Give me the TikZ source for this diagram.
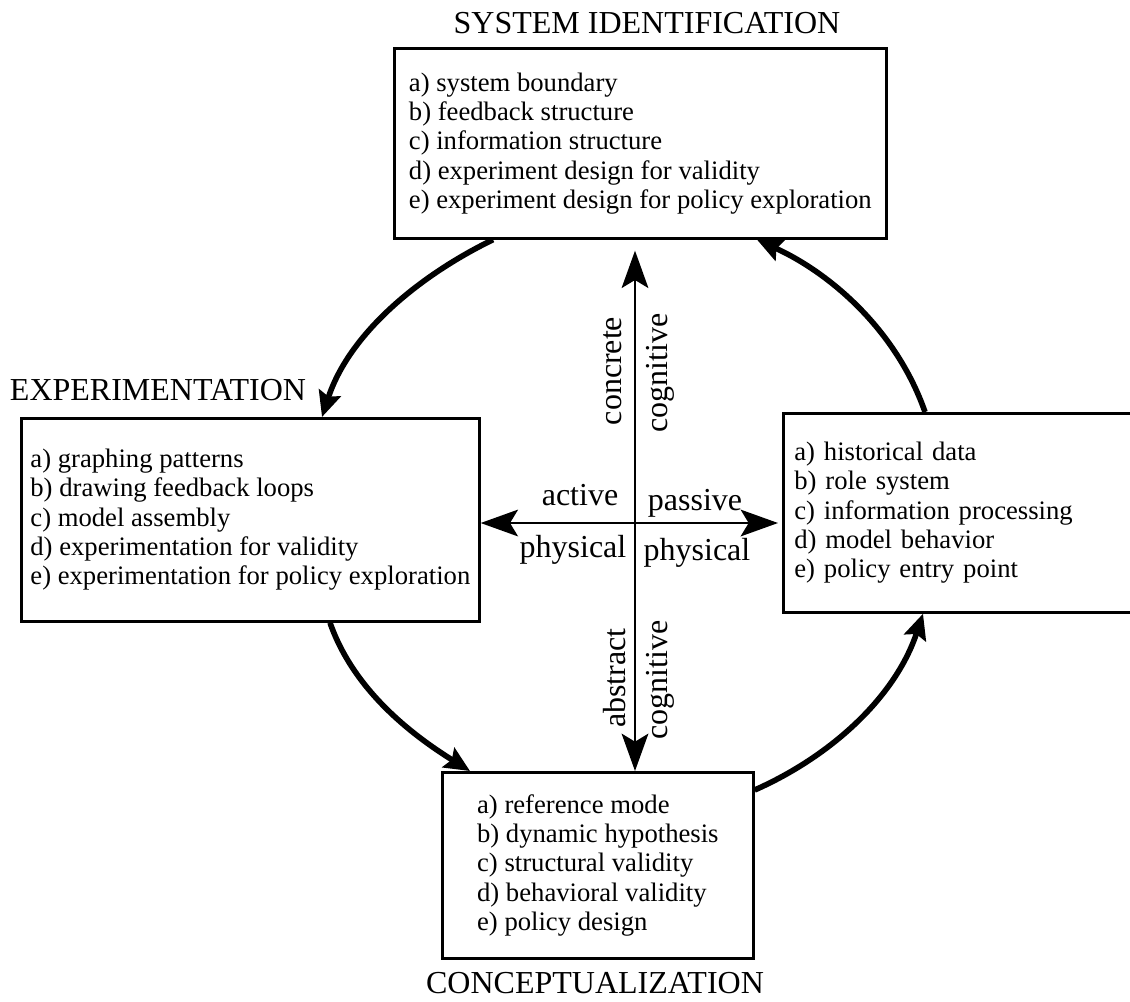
\documentclass[tikz,border=0pt]{standalone}
\usepackage{fontspec}
\setmainfont{Liberation Serif}
\usetikzlibrary{arrows.meta,calc}
\begin{document}
\begin{tikzpicture}[x=0.75pt,y=-0.75pt,
  box/.style={draw, line width=2pt, inner sep=0pt, anchor=north west, align=left,
              font=\fontsize{20}{22}\selectfont},
  ttl/.style={font=\fontsize{24}{28}\selectfont, inner sep=0pt},
  lbl/.style={font=\fontsize{24}{28}\selectfont, inner sep=0pt},
  cyc/.style={line width=4.2pt, -{Stealth[length=19pt,width=17pt,inset=3pt]}},
  axisarrow/.style={line width=1.8pt,
     {Stealth[length=28pt,width=20pt,inset=6pt]}-{Stealth[length=28pt,width=20pt,inset=6pt]}},
]
\fill[white] (0,0) rectangle (1130,1001);
\useasboundingbox (0,0) rectangle (1130,1001);
\clip (0,0) rectangle (1130,1001);

% boxes
\node[box, minimum width=369pt, minimum height=142.5pt] (sid) at (393,47)
  {a) system boundary\\ b) feedback structure\\ c) information structure\\
   d) experiment design for validity\\ e) experiment design for policy exploration};
\node[box, minimum width=343.5pt, minimum height=152.25pt] (exb) at (20,417)
  {a) graphing patterns\\ b) drawing feedback loops\\ c) model assembly\\
   d) experimentation for validity\\ e) experimentation for policy exploration};
\node[box, minimum width=268.5pt, minimum height=149.25pt, text width=252pt, inner xsep=8.25pt] (rb) at (782,412)
  {a) historical data\\ b) role system\\ c) information processing\\
   d) model behavior\\ e) policy entry point};
\node[box, minimum width=233.25pt, minimum height=139.5pt] (cob) at (441,771)
  {a) reference mode\\ b) dynamic hypothesis\\ c) structural validity\\
   d) behavioral validity\\ e) policy design};

% titles
\node[ttl] (tsid) at (647,23) {SYSTEM IDENTIFICATION};
\node[ttl] (texp) at (158,390) {EXPERIMENTATION};
\node[ttl] (tcon) at (595,983) {CONCEPTUALIZATION};

% cycle arrows
\draw[cyc] ($(sid.south west)+(100,0)$) .. controls +(-77,37.5) and +(26.5,-81.5) .. ($(exb.north west)+(302,0)$);
\draw[cyc] ($(exb.south west)+(310,0)$) .. controls +(23.3,66.6) and +(-59.9,-37.3) .. ($(cob.north west)+(29,0)$);
\draw[cyc] ($(cob.north east)+(0,19)$) .. controls +(78.7,-34.9) and +(-27,81.7) .. ($(rb.south west)+(141,0)$);
\draw[cyc] ($(rb.north west)+(143,0)$) .. controls +(-27.6,-79.3) and +(76.4,35) .. ($(sid.south west)+(364,0)$);

% axes
\coordinate (ctr) at (635,523);
\draw[axisarrow] ($(ctr |- sid.south)+(0,11)$) -- (ctr |- cob.north);
\draw[axisarrow] (ctr -| exb.east) -- ($(ctr -| rb.west)+(-4,0)$);

% axis labels
\node[lbl, rotate=90] (lconc) at (613,371) {concrete};
\node[lbl, rotate=90] (lcog1) at (660,373) {cognitive};
\node[lbl, rotate=90] (labs) at (615,678) {abstract};
\node[lbl, rotate=90] (lcog2) at (660,680) {cognitive};
\node[lbl, anchor=base] (lact) at (580,505) {active};
\node[lbl, anchor=base] (lpas) at (695,510) {passive};
\node[lbl, anchor=base] (lph1) at (573,557) {physical};
\node[lbl, anchor=base] (lph2) at (697,560) {physical};
\end{tikzpicture}
\end{document}
